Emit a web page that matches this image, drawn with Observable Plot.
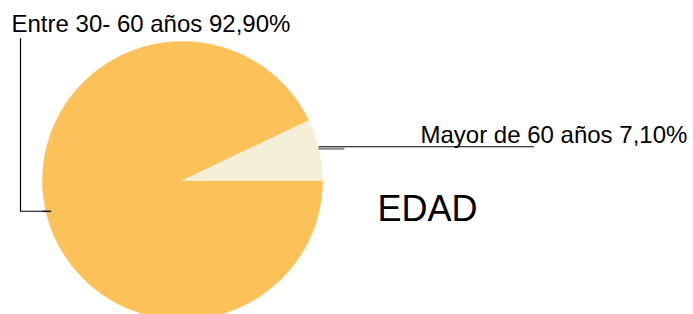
<!DOCTYPE html>
<html>
<head>
<meta charset="utf-8">
<script src="https://cdn.jsdelivr.net/npm/d3@7"></script>
<script src="https://cdn.jsdelivr.net/npm/@observablehq/plot@0.6"></script>
<style>
  html, body { margin: 0; padding: 0; background: #fff; }
  #chart { width: 693px; height: 314px; }
</style>
</head>
<body>
<div id="chart"></div>
<script>
// ---- data ----
const categories = ["Entre 30- 60 años", "Mayor de 60 años"];
const values = [92.9, 7.1];
const valueLabels = ["92,90%", "7,10%"];
const colors = ["#FCC159", "#F6EFD8"];
const title = "EDAD";

// ---- layout ----
const W = 693, H = 314;
const CX = 182, CY = 180, RX = 140, RY = 139; // pixel centre & radii
const FONT = "Liberation Sans, Arial, sans-serif";

// pie geometry: clockwise from 3 o'clock, in data order
const total = d3.sum(values);
const ends = d3.cumsum(values).map(v => v / total);
const slices = categories.map((c, i) => {
  const a0 = -2 * Math.PI * (i === 0 ? 0 : ends[i - 1]);
  const a1 = -2 * Math.PI * ends[i];
  return {category: c, value: values[i], label: valueLabels[i], a0, a1, mid: (a0 + a1) / 2};
});

// polygon points for each slice (unit circle)
const slicePts = [];
for (const s of slices) {
  slicePts.push({category: s.category, x: 0, y: 0});
  const n = Math.max(2, Math.ceil(Math.abs(s.a1 - s.a0) / (Math.PI / 360)));
  for (let k = 0; k <= n; k++) {
    const a = s.a0 + (s.a1 - s.a0) * k / n;
    slicePts.push({category: s.category, x: Math.cos(a), y: Math.sin(a)});
  }
  slicePts.push({category: s.category, x: 0, y: 0});
}

const px = v => (v - CX) / RX;   // pixel -> unit helpers for label layout
const py = v => (CY - v) / RY;

// leader lines from mid-angle edge points
const sBig = slices[0], sSmall = slices[1];
const bigEdge = {x: Math.cos(sBig.mid), y: Math.sin(sBig.mid)};
const smallEdge = {x: Math.cos(sSmall.mid), y: Math.sin(sSmall.mid)};
const leaders = [
  {id: "a", x: bigEdge.x + px(50) - px(45.5), y: bigEdge.y},
  {id: "a", x: px(20), y: bigEdge.y},
  {id: "a", x: px(20), y: py(38)},
  {id: "b", x: smallEdge.x, y: smallEdge.y + py(146) - py(149)},
  {id: "b", x: px(533), y: smallEdge.y + py(146) - py(149)}
];
const shadows = [
  {id: "a", x: bigEdge.x - 0.02, y: bigEdge.y},
  {id: "a", x: bigEdge.x + px(50) - px(45.5), y: bigEdge.y},
  {id: "b", x: smallEdge.x, y: smallEdge.y + py(148) - py(149)},
  {id: "b", x: px(343), y: smallEdge.y + py(148) - py(149)}
];
const labels = [
  {x: px(11), y: py(31), text: `${sBig.category} ${sBig.label}`},
  {x: px(420), y: py(142), text: `${sSmall.category} ${sSmall.label}`}
];

const chart = Plot.plot({
  width: W,
  height: H,
  margin: 0,
  style: {background: "#fff", fontFamily: FONT},
  x: {domain: [px(0), px(W)], range: [0, W], axis: null},
  y: {domain: [py(H), py(0)], range: [H, 0], axis: null},
  color: {domain: categories, range: colors},
  marks: [
    Plot.line(slicePts, {x: "x", y: "y", z: "category", fill: "category", stroke: "category", strokeWidth: 0.5, curve: "linear"}),
    Plot.line(shadows, {x: "x", y: "y", z: "id", stroke: "#8a8a8a", strokeWidth: 2}),
    Plot.line(leaders, {x: "x", y: "y", z: "id", stroke: "#000", strokeWidth: 1.2}),
    Plot.text(labels, {x: "x", y: "y", text: "text", textAnchor: "start", lineAnchor: "bottom", fontSize: 24, fill: "#000"}),
    Plot.text([title], {x: () => px(377), y: () => py(220), text: d => d, textAnchor: "start", lineAnchor: "bottom", fontSize: 36, fill: "#000"})
  ]
});
document.getElementById("chart").appendChild(chart);
</script>
</body>
</html>
